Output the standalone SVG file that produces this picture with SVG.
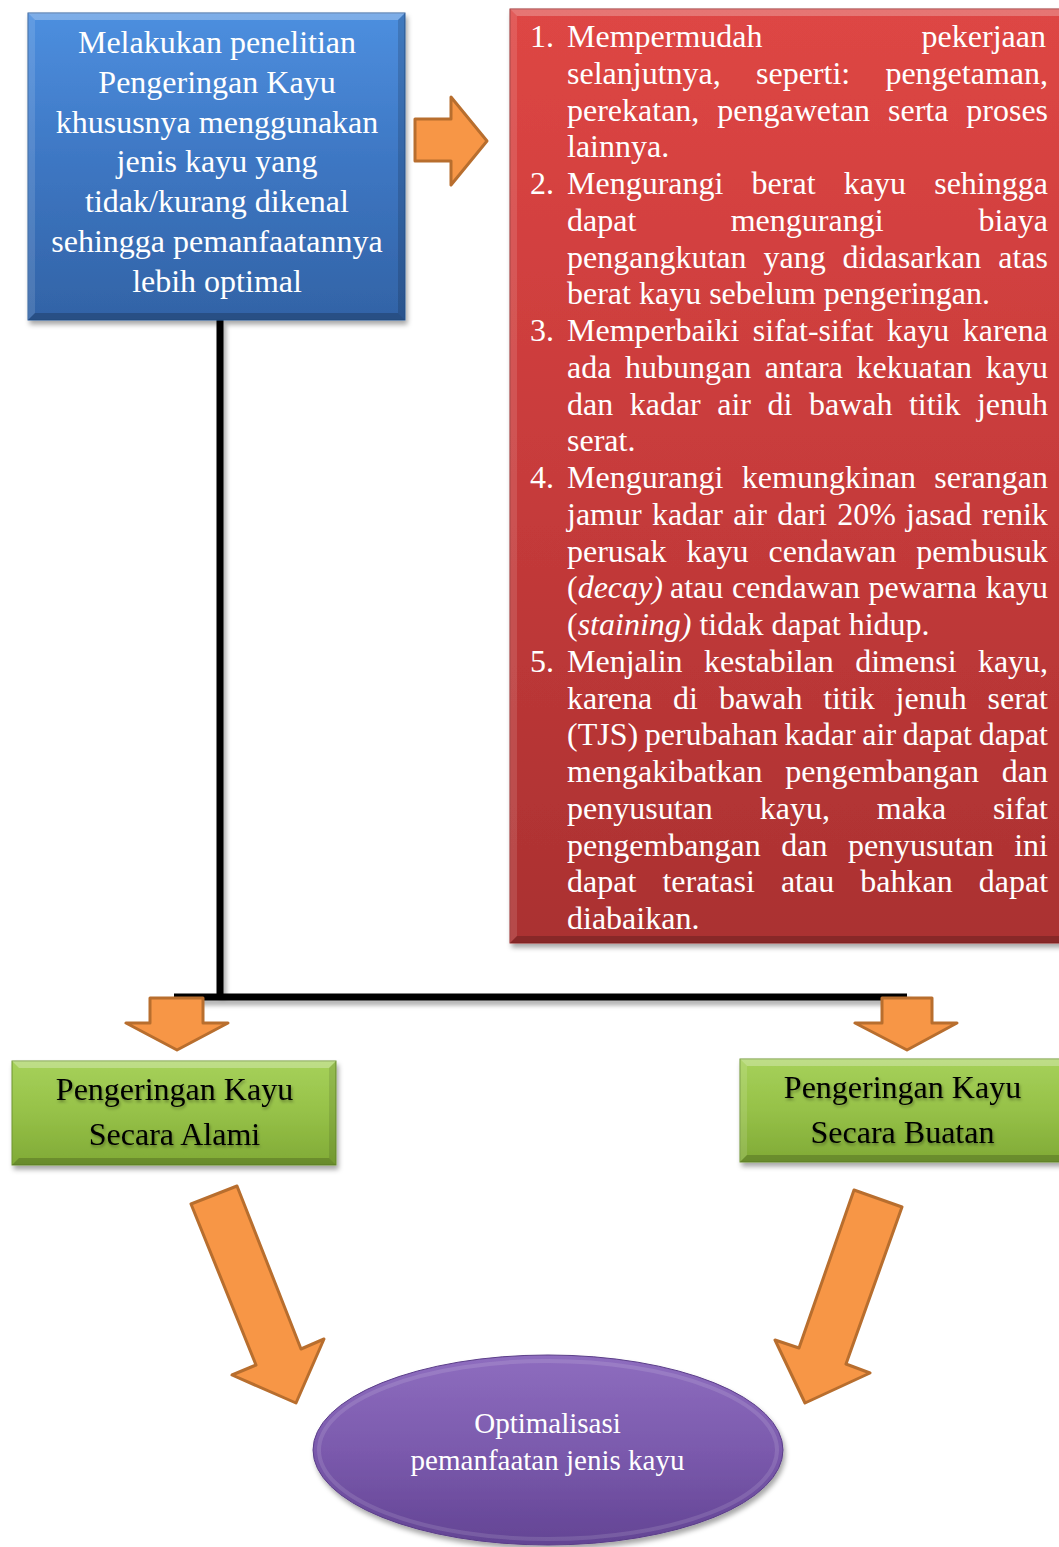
<svg xmlns="http://www.w3.org/2000/svg" width="1059" height="1547" viewBox="0 0 1059 1547">
<defs>
<linearGradient id="gBlue" x1="0" y1="0" x2="0" y2="1"><stop offset="0" stop-color="#4d8fdf"/><stop offset="0.5" stop-color="#3d76c2"/><stop offset="1" stop-color="#3263a6"/></linearGradient>
<linearGradient id="gRed" x1="0" y1="0" x2="0" y2="1"><stop offset="0" stop-color="#de4644"/><stop offset="0.5" stop-color="#c73b3b"/><stop offset="1" stop-color="#aa3131"/></linearGradient>
<linearGradient id="gGreen" x1="0" y1="0" x2="0" y2="1"><stop offset="0" stop-color="#a6d15a"/><stop offset="0.5" stop-color="#96c148"/><stop offset="1" stop-color="#80aa36"/></linearGradient>
<linearGradient id="gPurple" x1="0" y1="0" x2="0" y2="1"><stop offset="0" stop-color="#8e6dbf"/><stop offset="0.5" stop-color="#7b5aad"/><stop offset="1" stop-color="#634494"/></linearGradient>
<filter id="shadow" x="-10%" y="-10%" width="130%" height="130%"><feDropShadow dx="2" dy="4" stdDeviation="2.5" flood-color="#000" flood-opacity="0.35"/></filter>
<filter id="lshadow" x="-5%" y="-50%" width="110%" height="300%"><feDropShadow dx="3" dy="5" stdDeviation="2" flood-color="#000" flood-opacity="0.3"/></filter>
<filter id="tshadow" x="-10%" y="-20%" width="120%" height="150%"><feDropShadow dx="1" dy="2" stdDeviation="1.5" flood-color="#000" flood-opacity="0.35"/></filter>
<style>
.serif{font-family:"Liberation Serif","Times New Roman",serif}
.wt{fill:#ffffff;font-size:32px}
.bt{fill:#000000;font-size:32px}
.arr{fill:#f79646;stroke:#b86e2e;stroke-width:3;stroke-linejoin:round}
.hi{fill:#ffffff}
.lo{fill:#000000}
.con{stroke:#000;stroke-width:7;fill:none}
</style>
</defs>

<g id="connectors">
<g filter="url(#lshadow)">
<line class="con" x1="220" y1="320" x2="220" y2="997"/>
<line class="con" x1="174" y1="997" x2="907" y2="997"/>
</g>
<polygon class="arr" points="415,119 451,119 451,97 487,141 451,185 451,161 415,161"/>
<polygon class="arr" points="150,998 203,998 203,1023 228,1023 177,1050 126,1023 150,1023"/>
<polygon class="arr" points="882,998 932,998 932,1023 957,1023 907,1050 855,1023 882,1023"/>
<polygon class="arr" points="191,1204 237,1186 301,1349 324,1339 296,1403 232,1375 256,1365"/>
<polygon class="arr" points="854,1190 902,1207 846,1364 870,1373 805,1403 775,1340 799,1348"/>
</g>

<g id="node-blue">
<rect x="28" y="13" width="377" height="307" fill="url(#gBlue)" stroke="#2d5c9c" stroke-width="1" filter="url(#shadow)"/>
<polygon class="hi" opacity="0.28" points="28,13 405,13 398,20 35,20"/>
<polygon class="hi" opacity="0.12" points="28,13 35,20 35,313 28,320"/>
<polygon class="lo" opacity="0.15" points="405,13 405,320 398,313 398,20"/>
<polygon class="lo" opacity="0.2" points="28,320 405,320 398,313 35,313"/>
<g class="serif wt" text-anchor="middle">
<text x="217" y="53">Melakukan penelitian</text>
<text x="217" y="92.8">Pengeringan Kayu</text>
<text x="217" y="132.6">khususnya menggunakan</text>
<text x="217" y="172.4">jenis kayu yang</text>
<text x="217" y="212.2">tidak/kurang dikenal</text>
<text x="217" y="252">sehingga pemanfaatannya</text>
<text x="217" y="291.8">lebih optimal</text>
</g>
</g>

<g id="node-red">
<rect x="510" y="9" width="560" height="934" fill="url(#gRed)" stroke="#9a2c2c" stroke-width="1" filter="url(#shadow)"/>
<polygon class="hi" opacity="0.25" points="510,9 1070,9 1063,16 517,16"/>
<polygon class="hi" opacity="0.12" points="510,9 517,16 517,936 510,943"/>
<polygon class="lo" opacity="0.2" points="510,943 1070,943 1063,936 517,936"/>
<g class="serif wt">
<text y="47"><tspan x="530">1.</tspan><tspan x="567">Mempermudah</tspan><tspan x="921.6">pekerjaan</tspan></text>
<text y="83.75"><tspan x="567">selanjutnya,</tspan><tspan x="756">seperti:</tspan><tspan x="885.4">pengetaman,</tspan></text>
<text y="120.5"><tspan x="567">perekatan,</tspan><tspan x="717.3">pengawetan</tspan><tspan x="888">serta</tspan><tspan x="966.3">proses</tspan></text>
<text y="157.25"><tspan x="567">lainnya.</tspan></text>
<text y="194"><tspan x="530">2.</tspan><tspan x="567">Mengurangi</tspan><tspan x="751.6">berat</tspan><tspan x="843.8">kayu</tspan><tspan x="934.2">sehingga</tspan></text>
<text y="230.75"><tspan x="567">dapat</tspan><tspan x="730.7">mengurangi</tspan><tspan x="978.6">biaya</tspan></text>
<text y="267.5"><tspan x="567">pengangkutan</tspan><tspan x="763.5">yang</tspan><tspan x="842.6">didasarkan</tspan><tspan x="998.2">atas</tspan></text>
<text y="304.25"><tspan x="567">berat kayu sebelum pengeringan.</tspan></text>
<text y="341"><tspan x="530">3.</tspan><tspan x="567">Memperbaiki</tspan><tspan x="752.8">sifat-sifat</tspan><tspan x="887.1">kayu</tspan><tspan x="962.7">karena</tspan></text>
<text y="377.75"><tspan x="567">ada</tspan><tspan x="625">hubungan</tspan><tspan x="764.8">antara</tspan><tspan x="856.6">kekuatan</tspan><tspan x="985.8">kayu</tspan></text>
<text y="414.5"><tspan x="567">dan</tspan><tspan x="629.7">kadar</tspan><tspan x="717.2">air</tspan><tspan x="767.5">di</tspan><tspan x="808.9">bawah</tspan><tspan x="908.9">titik</tspan><tspan x="976.9">jenuh</tspan></text>
<text y="451.25"><tspan x="567">serat.</tspan></text>
<text y="488"><tspan x="530">4.</tspan><tspan x="567">Mengurangi</tspan><tspan x="741.8">kemungkinan</tspan><tspan x="934.3">serangan</tspan></text>
<text y="524.75"><tspan x="567">jamur</tspan><tspan x="651.9">kadar</tspan><tspan x="733.2">air</tspan><tspan x="777.2">dari</tspan><tspan x="837.2">20%</tspan><tspan x="906.1">jasad</tspan><tspan x="982.1">renik</tspan></text>
<text y="561.5"><tspan x="567">perusak</tspan><tspan x="686.4">kayu</tspan><tspan x="768.5">cendawan</tspan><tspan x="916.3">pembusuk</tspan></text>
<text y="598.25"><tspan x="567">(<tspan font-style="italic">decay)</tspan></tspan><tspan x="670">atau</tspan><tspan x="732">cendawan</tspan><tspan x="868.6">pewarna</tspan><tspan x="985.8">kayu</tspan></text>
<text y="635"><tspan x="567">(<tspan font-style="italic">staining)</tspan> tidak dapat hidup.</tspan></text>
<text y="671.75"><tspan x="530">5.</tspan><tspan x="567">Menjalin</tspan><tspan x="704">kestabilan</tspan><tspan x="855.2">dimensi</tspan><tspan x="977.9">kayu,</tspan></text>
<text y="708.5"><tspan x="567">karena</tspan><tspan x="673.1">di</tspan><tspan x="718.9">bawah</tspan><tspan x="823.2">titik</tspan><tspan x="895.6">jenuh</tspan><tspan x="987.6">serat</tspan></text>
<text y="745.25"><tspan x="567">(TJS)</tspan><tspan x="644.7">perubahan</tspan><tspan x="784.6">kadar</tspan><tspan x="862.3">air</tspan><tspan x="902.7">dapat</tspan><tspan x="978.7">dapat</tspan></text>
<text y="782"><tspan x="567">mengakibatkan</tspan><tspan x="785.3">pengembangan</tspan><tspan x="1001.8">dan</tspan></text>
<text y="818.75"><tspan x="567">penyusutan</tspan><tspan x="759.7">kayu,</tspan><tspan x="876.8">maka</tspan><tspan x="992.9">sifat</tspan></text>
<text y="855.5"><tspan x="567">pengembangan</tspan><tspan x="781.2">dan</tspan><tspan x="847.9">penyusutan</tspan><tspan x="1014.2">ini</tspan></text>
<text y="892.25"><tspan x="567">dapat</tspan><tspan x="662.4">teratasi</tspan><tspan x="780.9">atau</tspan><tspan x="860.3">bahkan</tspan><tspan x="978.8">dapat</tspan></text>
<text y="929"><tspan x="567">diabaikan.</tspan></text>
</g>
</g>

<g id="node-green-left">
<rect x="12" y="1061" width="324" height="104" fill="url(#gGreen)" stroke="#6f9530" stroke-width="1" filter="url(#shadow)"/>
<polygon class="hi" opacity="0.28" points="12,1061 336,1061 329,1068 19,1068"/>
<polygon class="lo" opacity="0.18" points="12,1165 336,1165 329,1158 19,1158"/>
<polygon class="lo" opacity="0.1" points="336,1061 336,1165 329,1158 329,1068"/>
<g class="serif bt" text-anchor="middle" filter="url(#tshadow)">
<text x="174.5" y="1100">Pengeringan Kayu</text>
<text x="174.5" y="1145">Secara Alami</text>
</g>
</g>

<g id="node-green-right">
<rect x="740" y="1059" width="330" height="103" fill="url(#gGreen)" stroke="#6f9530" stroke-width="1" filter="url(#shadow)"/>
<polygon class="hi" opacity="0.28" points="740,1059 1070,1059 1063,1066 747,1066"/>
<polygon class="hi" opacity="0.12" points="740,1059 747,1066 747,1155 740,1162"/>
<polygon class="lo" opacity="0.18" points="740,1162 1070,1162 1063,1155 747,1155"/>
<g class="serif bt" text-anchor="middle" filter="url(#tshadow)">
<text x="902.5" y="1098">Pengeringan Kayu</text>
<text x="902.5" y="1143">Secara Buatan</text>
</g>
</g>

<g id="node-ellipse">
<ellipse cx="548" cy="1450" rx="235" ry="95" fill="url(#gPurple)" stroke="#5a3d88" stroke-width="1" filter="url(#shadow)"/>
<ellipse cx="548" cy="1450" rx="229" ry="89" fill="none" stroke="#ffffff" stroke-opacity="0.12" stroke-width="4"/>
<g class="serif" fill="#ffffff" font-size="29" text-anchor="middle">
<text x="547.5" y="1433">Optimalisasi</text>
<text x="547.5" y="1470">pemanfaatan jenis kayu</text>
</g>
</g>
</svg>
